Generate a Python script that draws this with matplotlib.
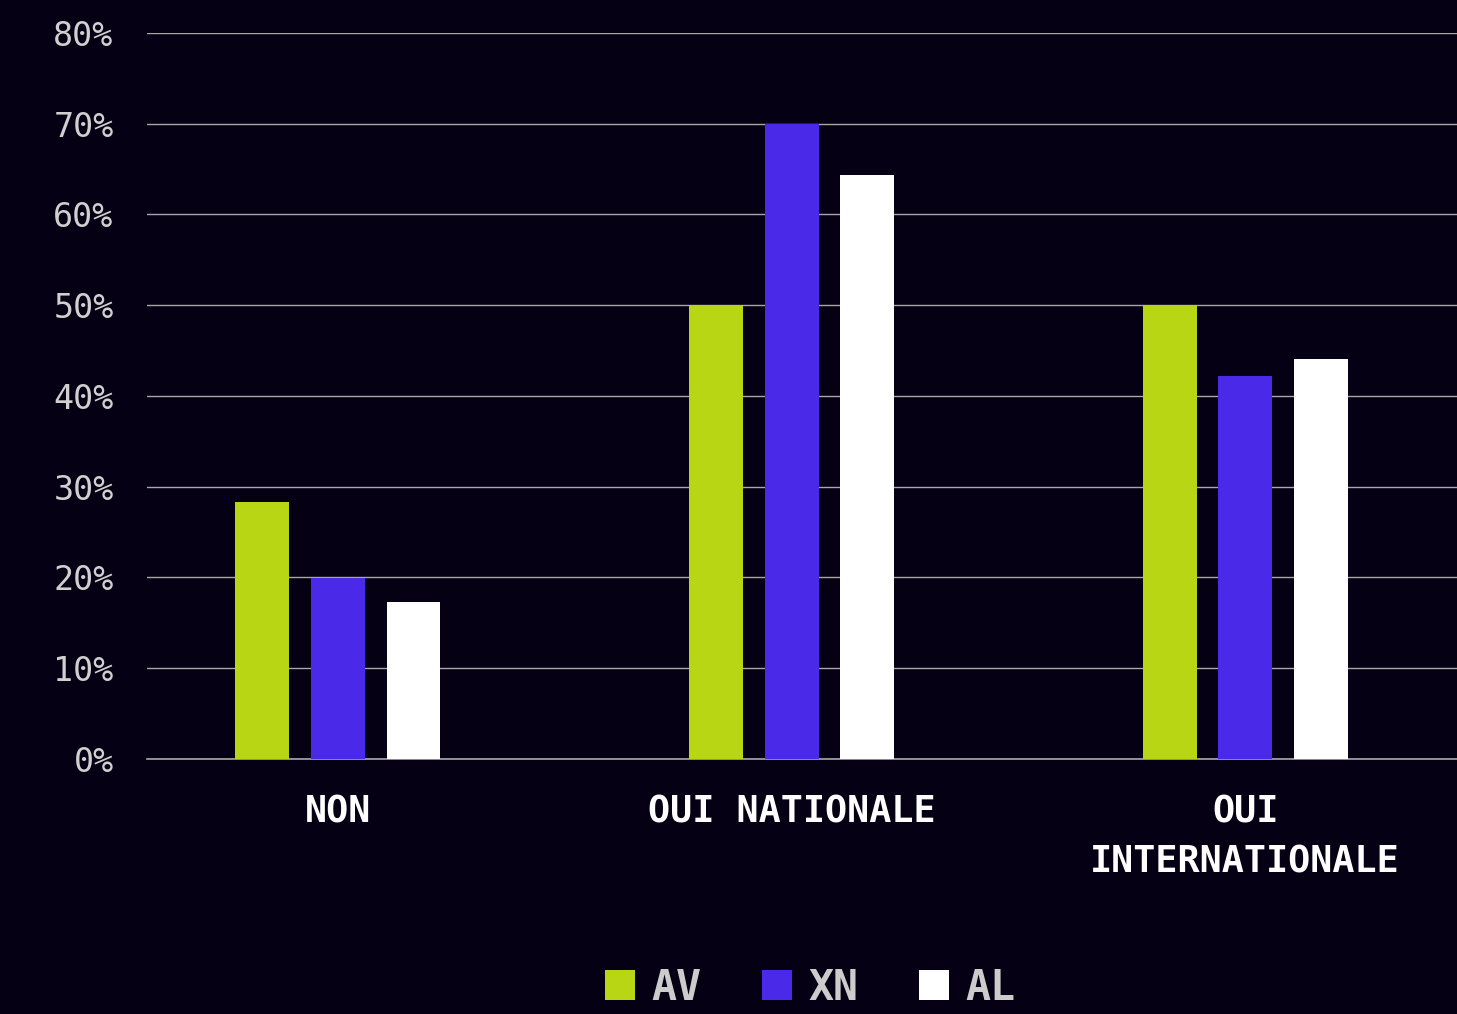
import numpy as np
import matplotlib
matplotlib.use('Agg')
import matplotlib.pyplot as plt
from matplotlib.patches import Patch

# données
categories = ['NON', 'OUI NATIONALE', 'OUI\nINTERNATIONALE']
series = ['AV', 'XN', 'AL']
av = [28.3, 50.0, 50.0]
xn = [19.9, 70.0, 42.2]
al = [17.3, 64.4, 44.1]
yticks = [0, 10, 20, 30, 40, 50, 60, 70, 80]

colors = ['#b8d614', '#4a2ae8', '#ffffff']
bg = '#050014'

plt.rcParams['font.family'] = ['DejaVu Sans Mono', 'DejaVu Sans']

fig = plt.figure(figsize=(14.57, 10.14), dpi=100, facecolor=bg)
ax = fig.add_axes([0.1009, 0.2515, 0.8991, 0.7160])
ax.set_facecolor(bg)

x = np.arange(len(categories))
w = 0.119
off = 0.1665
for i, (vals, c) in enumerate(zip([av, xn, al], colors)):
    ax.bar(x + (i - 1) * off, vals, width=w, color=c, zorder=3, label=series[i])

ax.set_ylim(0, 80)
ax.set_xlim(-0.421, 2.467)
ax.set_yticks(yticks)
ax.set_yticklabels([f'{t}%' for t in yticks])
ax.set_xticks(x)
ax.set_xticklabels(categories, fontweight='bold', color='white', fontsize=26.5,
                   linespacing=1.45)
ax.tick_params(axis='y', length=0, pad=24, labelsize=24, labelcolor='#d0d0d0')
ax.tick_params(axis='x', length=0, pad=25)
ax.grid(axis='y', color='#a8a8a8', lw=1.0, zorder=0)
ax.axhline(0, color='#a8a8a8', lw=1.2, zorder=2, clip_on=False)
for s in ax.spines.values():
    s.set_visible(False)

handles = [Patch(facecolor=c, edgecolor='none') for c in colors]
fig.legend(handles, series, loc='center', bbox_to_anchor=(0.556, 0.026), ncol=3,
           frameon=False, prop={'weight': 'bold', 'size': 30},
           labelcolor='#cccccc', handlelength=0.72, handleheight=0.72,
           handletextpad=0.4, columnspacing=1.45, borderpad=0.1)

fig.savefig('out.png', dpi=100, facecolor=bg)
